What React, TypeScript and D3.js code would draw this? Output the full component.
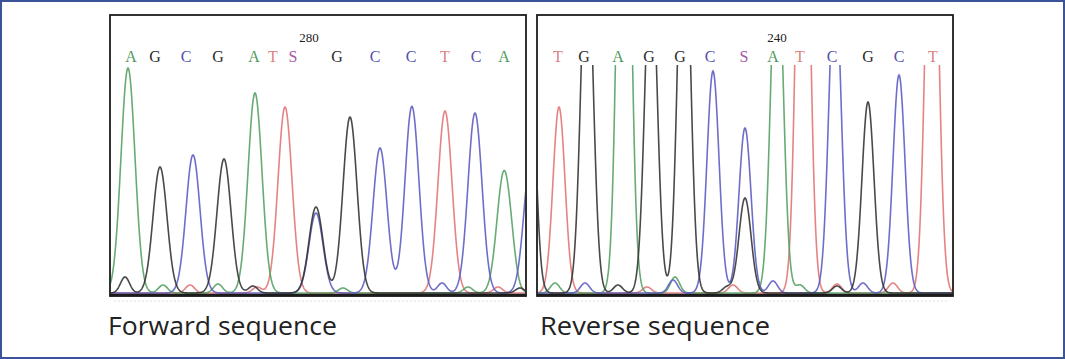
import React from 'react';
import * as d3 from 'd3';

// base calls printed above each trace (position = scan offset inside the panel)
const fwdCalls = ['A', 'G', 'C', 'G', 'A', 'T', 'S', 'G', 'C', 'C', 'T', 'C', 'A'];
const fwdCallPos = [21, 45, 76, 108, 144, 163, 183, 227, 265, 301, 335, 366, 394];
const revCalls = ['T', 'G', 'A', 'G', 'G', 'C', 'S', 'A', 'T', 'C', 'G', 'C', 'T'];
const revCallPos = [21, 47, 81, 112, 143, 173, 207, 236, 263, 295, 331, 362, 396];

// base numbering ticks
const fwdTickLabel = '280';
const fwdTickPos = 199;
const revTickLabel = '240';
const revTickPos = 240;

// peaks per dye channel: [scan offset, signal]
const fwdA = [[18, 225], [145, 200], [394, 121]];
const fwdC = [[83, 138], [206, 80], [270, 145], [302, 183], [365, 180], [421, 135]];
const fwdG = [[50, 126], [114, 134], [206, 86], [240, 176]];
const fwdT = [[175, 186], [335, 182]];

const revA = [[87, 640], [240, 360]];
const revC = [[176, 222], [208, 165], [298, 320], [362, 218]];
const revG = [[-9, 340], [50, 360], [114, 344], [147, 420], [208, 95], [331, 191]];
const revT = [[22, 186], [266, 590], [395, 490]];

// low background bumps near the baseline
const fwdNoiseA = [[53, 8], [108, 9], [233, 5], [358, 6], [402, 7]];
const fwdNoiseC = [[332, 10], [300, 4]];
const fwdNoiseG = [[15, 16], [143, 7], [410, 5]];
const fwdNoiseT = [[80, 8], [147, 6], [388, 6]];

const revNoiseA = [[18, 10], [138, 16], [263, 8]];
const revNoiseC = [[48, 10], [136, 13], [236, 12], [326, 10]];
const revNoiseG = [[81, 8], [190, 6], [300, 7]];
const revNoiseT = [[110, 6], [196, 8], [300, 9], [356, 10], [388, 5]];

const dyeColor: Record<string, string> = {
  A: '#57a265',
  C: '#5e5ec4',
  G: '#353535',
  T: '#e27575',
};
const callColor: Record<string, string> = {
  A: '#4f9a5a',
  C: '#5050aa',
  G: '#2a2a2a',
  T: '#e07f7f',
  S: '#a957a9',
};

const PANEL_W = 416;
const PANEL_TOP = 15;
const PANEL_BOTTOM = 296;
const BASELINE = 293;

function trace(peaks: number[][], noise: number[][], sigma: number) {
  const pts: [number, number][] = [];
  for (let s = -15; s <= PANEL_W + 15; s += 0.5) {
    let v = 0;
    peaks.forEach(([p, h]) => { v += h * Math.exp(-((s - p) ** 2) / (2 * sigma * sigma)); });
    noise.forEach(([p, h]) => { v += h * Math.exp(-((s - p) ** 2) / (2 * 4.5 * 4.5)); });
    pts.push([s, v]);
  }
  return pts;
}

function Panel({ id, x0, sigma, channels, calls, callPos, tickLabel, tickPos }: any) {
  const x = d3.scaleLinear().domain([0, PANEL_W]).range([x0, x0 + PANEL_W]);
  const y = d3.scaleLinear().domain([0, 229]).range([BASELINE, 64]);
  const line = d3.line<[number, number]>().x(d => x(d[0])).y(d => y(d[1]));

  return (
    <g>
      <clipPath id={id}>
        <rect x={x0 + 1} y={65} width={PANEL_W - 2} height={PANEL_BOTTOM - 65} />
      </clipPath>
      <rect x={x0} y={PANEL_TOP} width={PANEL_W} height={PANEL_BOTTOM - PANEL_TOP} fill="#fff" />
      <g clipPath={`url(#${id})`}>
        {channels.map((c: any) => (
          <path key={c.base} d={line(trace(c.peaks, c.noise, sigma)) || ''} fill="none"
            stroke={dyeColor[c.base]} strokeWidth={1.6} strokeOpacity={0.9} />
        ))}
      </g>
      <text x={x(tickPos)} y={42} textAnchor="middle" fontFamily="Liberation Serif" fontSize={13} fill="#222">
        {tickLabel}
      </text>
      {calls.map((b: string, i: number) => (
        <text key={i} x={x(callPos[i])} y={62} textAnchor="middle" fontFamily="Liberation Serif"
          fontSize={16} fill={callColor[b]}>{b}</text>
      ))}
      <rect x={x0} y={PANEL_TOP} width={PANEL_W} height={PANEL_BOTTOM - PANEL_TOP} fill="none"
        stroke="#1c1c1c" strokeWidth={1.8} />
      <line x1={x0} x2={x0 + PANEL_W} y1={PANEL_BOTTOM - 1} y2={PANEL_BOTTOM - 1} stroke="#1c1c1c" strokeWidth={2.5} />
      <line x1={x0 + 4} x2={x0 + PANEL_W - 4} y1={301} y2={301} stroke="#e4dfe8" strokeWidth={1} strokeDasharray="2 2" />
    </g>
  );
}

export default function App() {
  const fwdChannels = [
    { base: 'T', peaks: fwdT, noise: fwdNoiseT },
    { base: 'A', peaks: fwdA, noise: fwdNoiseA },
    { base: 'C', peaks: fwdC, noise: fwdNoiseC },
    { base: 'G', peaks: fwdG, noise: fwdNoiseG },
  ];
  const revChannels = [
    { base: 'T', peaks: revT, noise: revNoiseT },
    { base: 'A', peaks: revA, noise: revNoiseA },
    { base: 'C', peaks: revC, noise: revNoiseC },
    { base: 'G', peaks: revG, noise: revNoiseG },
  ];

  return (
    <svg width={1065} height={359} style={{ position: 'absolute', left: 0, top: 0, background: '#fff' }}>
      <rect x={0} y={0} width={1065} height={359} fill="#fff" />
      <Panel id="clipFwd" x0={110} sigma={7.0} channels={fwdChannels} calls={fwdCalls} callPos={fwdCallPos}
        tickLabel={fwdTickLabel} tickPos={fwdTickPos} />
      <Panel id="clipRev" x0={537} sigma={6.0} channels={revChannels} calls={revCalls} callPos={revCallPos}
        tickLabel={revTickLabel} tickPos={revTickPos} />
      <text x={108} y={335} fontFamily="Open Sans" fontSize={25} fill="#222" textLength={229}
        lengthAdjust="spacingAndGlyphs">Forward sequence</text>
      <text x={540} y={335} fontFamily="Open Sans" fontSize={25} fill="#222" textLength={230}
        lengthAdjust="spacingAndGlyphs">Reverse  sequence</text>
      <rect x={1} y={1} width={1063} height={357} fill="none" stroke="#3b5499" strokeWidth={2} />
    </svg>
  );
}
